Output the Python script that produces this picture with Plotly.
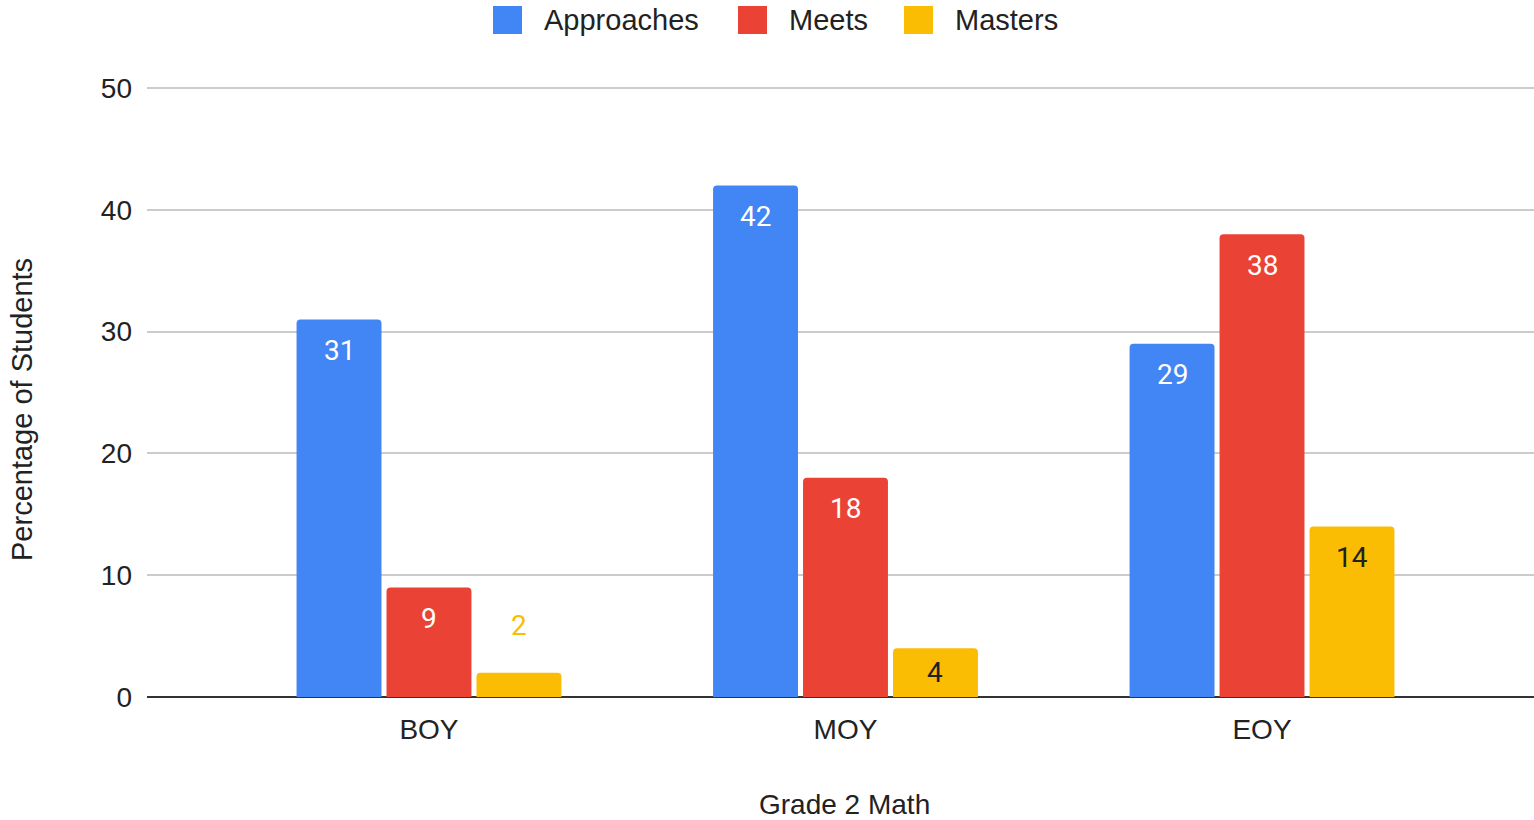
import plotly.graph_objects as go

# Data
categories = ["BOY", "MOY", "EOY"]
approaches = [31, 42, 29]
meets = [9, 18, 38]
masters = [2, 4, 14]

series_names = ["Approaches", "Meets", "Masters"]
series_values = [approaches, meets, masters]
series_colors = ["#4285F4", "#EA4335", "#FBBC04"]
label_colors = ["#FFFFFF", "#FFFFFF", "#202124"]

y_ticks = [0, 10, 20, 30, 40, 50]

# Layout geometry (pixels)
W, H = 1534, 820
ML, MR, MT, MB = 147, 0, 86, 123
PW, PH = W - ML - MR, H - MT - MB

# a little headroom above the top tick so its grid line is drawn
Y_RANGE = [0, 50.17]
BARGAP = 0.352
BARGROUPGAP = 0.056
X_RANGE = [-0.677, 2.653]


def px_to_paper_x(px):
    return (px - ML) / PW


def px_to_paper_y(py):
    return (H - MB - py) / PH


fig = go.Figure()
for name, vals, col in zip(series_names, series_values, series_colors):
    fig.add_trace(go.Bar(
        x=categories, y=vals, name=name,
        marker=dict(color=col, cornerradius=4, line=dict(width=0)),
        showlegend=False, hoverinfo="x+y+name",
    ))

# Value labels: inside near the top of tall bars (centred in short ones),
# above bars too short to hold them
slot = (1 - BARGAP) / len(series_names)
px_per_unit = PH / (Y_RANGE[1] - Y_RANGE[0])
annotations = []
for si, (vals, col, lcol) in enumerate(zip(series_values, series_colors, label_colors)):
    off = (si - (len(series_names) - 1) / 2) * slot
    for ci, v in enumerate(vals):
        outside = v < 3
        shift = 47 if outside else -min(31, v * px_per_unit / 2)
        annotations.append(dict(
            x=ci + off, y=v, xref="x", yref="y",
            text=str(v), showarrow=False,
            yanchor="middle", xanchor="center",
            yshift=shift,
            font=dict(family="Roboto", size=28, color=col if outside else lcol),
        ))

# Axis titles
annotations.append(dict(
    x=px_to_paper_x(844), y=px_to_paper_y(804), xref="paper", yref="paper",
    text="Grade 2 Math", showarrow=False, xanchor="center", yanchor="middle",
    font=dict(family="Liberation Sans, Arial", size=28, color="#222222"),
))
annotations.append(dict(
    x=px_to_paper_x(22), y=px_to_paper_y(410), xref="paper", yref="paper",
    text="Percentage of Students", showarrow=False, textangle=-90,
    xanchor="center", yanchor="middle",
    font=dict(family="Liberation Sans, Arial", size=29, color="#222222"),
))

# Legend drawn across the top
legend_items = [(493, 542), (738, 787), (904, 953)]
shapes = []
for (sx, tx), name, col in zip(legend_items, series_names, series_colors):
    shapes.append(dict(
        type="rect", xref="paper", yref="paper",
        x0=px_to_paper_x(sx), x1=px_to_paper_x(sx + 29),
        y0=px_to_paper_y(34), y1=px_to_paper_y(6),
        fillcolor=col, line=dict(width=0),
    ))
    annotations.append(dict(
        x=px_to_paper_x(tx), y=px_to_paper_y(20), xref="paper", yref="paper",
        text=name, showarrow=False, xanchor="left", yanchor="middle",
        font=dict(family="Liberation Sans, Arial", size=29, color="#222222"),
    ))

fig.update_layout(
    width=W, height=H,
    margin=dict(l=ML, r=MR, t=MT, b=MB, pad=0),
    paper_bgcolor="white", plot_bgcolor="white",
    barmode="group", bargap=BARGAP, bargroupgap=BARGROUPGAP,
    showlegend=False,
    annotations=annotations, shapes=shapes,
    xaxis=dict(
        range=X_RANGE, showgrid=False, zeroline=False, showline=False,
        ticks="", ticklabelstandoff=13,
        tickfont=dict(family="Liberation Sans, Arial", size=28, color="#222222"),
    ),
    yaxis=dict(
        range=Y_RANGE, tickvals=y_ticks, showgrid=True,
        gridcolor="#CCCCCC", gridwidth=2,
        zeroline=True, zerolinecolor="#333333", zerolinewidth=2,
        showline=False, ticks="", ticklabelstandoff=14,
        tickfont=dict(family="Liberation Sans, Arial", size=28, color="#222222"),
    ),
)

fig.write_html("out.html")
